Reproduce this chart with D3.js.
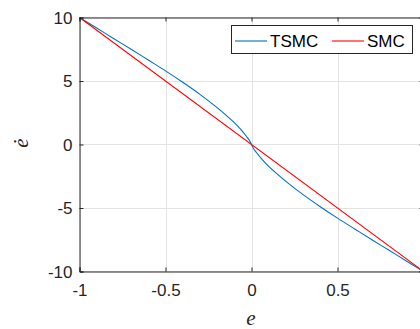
<!DOCTYPE html>
<html><head><meta charset="utf-8">
<script src="https://cdn.jsdelivr.net/npm/d3@7"></script>
<style>body{margin:0;background:#fff}svg{display:block}</style>
</head><body>
<script>
const eVals = [-1,-0.9,-0.8,-0.7,-0.6,-0.5,-0.4,-0.3,-0.2,-0.15,-0.1,-0.06,-0.03,-0.01,0,0.01,0.03,0.06,0.1,0.15,0.2,0.3,0.4,0.5,0.6,0.7,0.8,0.9,1];
const tsmc = [10,9.17,8.33,7.5,6.65,5.8,4.9,3.95,2.9,2.33,1.72,1.15,0.65,0.27,0,-0.27,-0.65,-1.15,-1.72,-2.33,-2.9,-3.95,-4.9,-5.8,-6.65,-7.5,-8.33,-9.17,-10];
const smcE = [-1,1];
const smc = [10,-10];
const xTicks = [-1,-0.5,0,0.5,1];
const yTicks = [-10,-5,0,5,10];
const seriesNames = ["TSMC","SMC"];

const W=420,H=329;
const L=79.5,R=423.5,T=17.5,B=271.5;
const svg=d3.select("body").append("svg").attr("width",W).attr("height",H);
const x=d3.scaleLinear().domain([-1,1]).range([L,R]);
const y=d3.scaleLinear().domain([-10,10]).range([B,T]);
const axisCol="#262626", font="Liberation Sans, Arial, sans-serif";

// grid
svg.append("g").selectAll("line").data(xTicks).join("line")
  .attr("x1",d=>Math.round(x(d))+0.5).attr("x2",d=>Math.round(x(d))+0.5).attr("y1",T).attr("y2",B)
  .attr("stroke","#e3e3e3").attr("stroke-width",1);
svg.append("g").selectAll("line").data(yTicks).join("line")
  .attr("y1",d=>Math.round(y(d)-0.5)+0.5).attr("y2",d=>Math.round(y(d)-0.5)+0.5).attr("x1",L).attr("x2",R)
  .attr("stroke","#e3e3e3").attr("stroke-width",1);

// lines
const line=d3.line().x(d=>x(d[0])).y(d=>y(d[1])).curve(d3.curveMonotoneX);
svg.append("path").datum(eVals.map((e,i)=>[e,tsmc[i]])).attr("d",line)
  .attr("fill","none").attr("stroke","#0072BD").attr("stroke-width",1.1);
svg.append("path").datum(smcE.map((e,i)=>[e,smc[i]])).attr("d",d3.line().x(d=>x(d[0])).y(d=>y(d[1])))
  .attr("fill","none").attr("stroke","#FF0000").attr("stroke-width",1.1);

// axes
const fmt=d=>String(d);
const ax=svg.append("g").attr("transform",`translate(0,${B})`)
  .call(d3.axisBottom(x).tickValues(xTicks).tickSize(-4).tickPadding(12).tickFormat(fmt));
const ay=svg.append("g").attr("transform",`translate(${L},0)`)
  .call(d3.axisLeft(y).tickValues(yTicks).tickSize(-4).tickPadding(7).tickFormat(fmt));
const axT=svg.append("g").attr("transform",`translate(0,${T})`)
  .call(d3.axisTop(x).tickValues(xTicks).tickSize(-4).tickFormat(""));
const ayR=svg.append("g").attr("transform",`translate(${R},0)`)
  .call(d3.axisRight(y).tickValues(yTicks).tickSize(-4).tickFormat(""));
[ax,ay,axT,ayR].forEach(g=>{
  g.selectAll("path").attr("stroke",axisCol);
  g.selectAll("line").attr("stroke",axisCol);
  g.selectAll("text").attr("fill",axisCol).style("font-family",font).style("font-size","17px");
});
ax.selectAll("text").attr("dy","0.71em");
ay.selectAll("text").attr("dy","0.35em");

// labels
svg.append("text").attr("x",251).attr("y",325).attr("text-anchor","middle")
  .style("font-family","Liberation Serif, Times New Roman, serif").style("font-style","italic").style("font-size","21px")
  .attr("fill",axisCol).text("e");
svg.append("text").attr("transform","translate(28,143) rotate(-90)").attr("text-anchor","middle")
  .style("font-family","Liberation Serif, Times New Roman, serif").style("font-style","italic").style("font-size","21px")
  .attr("fill",axisCol).text("ė");

// legend
const lg=svg.append("g");
lg.append("rect").attr("x",231.5).attr("y",25.5).attr("width",181).attr("height",28)
  .attr("fill","#fff").attr("stroke",axisCol).attr("stroke-width",1);
const cols=["#0072BD","#FF0000"];
const lx=[235,332];
seriesNames.forEach((n,i)=>{
  lg.append("line").attr("x1",lx[i]).attr("x2",lx[i]+32).attr("y1",41).attr("y2",41)
    .attr("stroke",cols[i]).attr("stroke-width",1.1);
  lg.append("text").attr("x",lx[i]+35).attr("y",47).text(n)
    .style("font-family",font).style("font-size","17px").attr("fill","#000");
});
</script>
</body></html>
